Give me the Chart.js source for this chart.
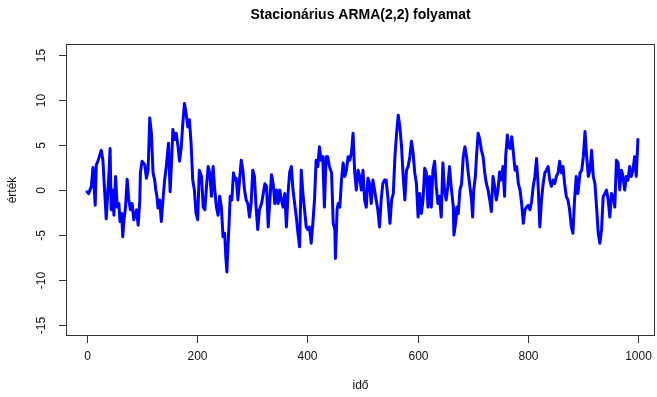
<!DOCTYPE html>
<html>
<head>
<meta charset="utf-8">
<script src="https://cdn.jsdelivr.net/npm/chart.js@4"></script>
<style>
  body { margin: 0; background: #fff; }
</style>
</head>
<body>
<canvas id="armaChart" width="657" height="397"></canvas>
<script>
// idő (time index) and érték (value)
const ido = [
  0,3,8,11,15,17,20,26,29,35,40,42,44,47,49,52,55,58,60,63,65,67,70,73,76,79,82,85,90,93,96,97,100,105,108,111,114,
  117,120,123,125,127,129,132,135,138,141,144,148,151,154,156,159,162,165,168,171,174,177,180,183,186,189,192,195,198,201,204,208,211,214,217,220,223,226,229,232,235,238,241,
  244,247,250,252,254,256,258,260,263,266,269,271,274,277,280,283,286,289,292,295,298,301,304,307,310,313,317,320,323,326,329,332,335,338,341,344,347,350,353,356,359,362,365,
  368,371,374,377,380,383,386,389,392,395,398,401,404,407,410,413,416,419,422,425,428,431,434,437,440,444,447,450,451,454,456,459,462,465,468,471,474,477,480,483,486,489,492,
  495,498,501,504,507,510,513,516,519,522,525,528,531,534,537,540,543,546,550,553,556,559,562,565,568,571,574,577,580,583,586,589,592,595,598,601,604,607,610,613,616,619,622,
  625,628,631,634,637,640,643,646,649,652,655,658,661,665,666,669,672,674,677,680,683,686,689,692,695,698,700,702,705,707,710,713,716,719,722,725,728,731,734,737,740,743,746,
  749,752,755,758,760,763,765,768,771,774,777,780,783,786,789,792,795,798,801,804,807,810,813,816,819,822,825,828,831,834,837,840,843,846,849,852,855,858,861,864,867,870,873,876,879,
  882,885,888,891,895,898,901,904,907,910,913,916,919,922,925,928,931,934,937,940,943,946,949,952,955,958,961,964,967,970,973,976,979,982,985,988,991,994,997,1000
];
const ertek = [
  -0.2,-0.4,0.4,2.5,-1.7,2.8,3.2,4.4,3.3,-3.2,1.9,4.6,-2.2,0,-2.8,1.5,-1.9,-1.5,-3.5,-2.6,-5.2,-3.5,-1.9,1.2,-1.1,-2.2,-1.5,-3.3,-2.2,-3.9,-1.1,1.9,3.2,2.8,1.3,2.2,8.0,
  6.3,1.9,1.1,0,-0.7,-2.0,-1.1,-3.5,-1.1,1.1,2.6,5.2,-0.2,3.7,6.7,5.6,6.3,5.0,3.2,4.6,7.4,9.6,8.5,7.0,7.8,5.2,1.1,0,-2.6,-3.3,2.2,1.5,-1.9,-2.2,0.4,2.6,1.9,-0.7,2.6,0,-1.9,-2.8,-0.7,
  -1.9,-5.2,-4.8,-7.4,-9.1,-6.3,-3.7,-0.7,-1.1,1.9,1.1,1.3,-1.1,1.1,3.3,2.2,0,-1.1,-1.5,-3.0,-1.5,2.2,1.5,-1.9,-4.4,-2.2,-1.5,-0.4,0.7,0.4,-4.1,-1.1,1.7,0.7,-1.5,0,-1.5,0,-1.1,-1.9,-0.4,-4.1,-0.4,
  2.0,2.6,0,-1.5,-3.0,-4.8,-6.3,2.2,-0.4,-2.2,-4.1,-4.4,-4.1,-5.9,-3.7,-1.1,3.3,2.6,4.8,3.3,3.7,-1.9,3.7,3.7,2.6,1.9,-3.7,-4.4,-7.6,-2.2,-1.5,-1.9,1.1,3.0,1.5,2.2,3.7,3.3,4.1,6.3,1.9,0,2.2,
  1.5,0,2.2,-1.1,-1.9,1.3,0.7,-1.5,1.1,0,-1.1,-2.2,-4.1,-1.1,0.7,1.1,1.1,-0.7,-3.7,-1.1,-0.4,3.7,6.3,8.3,7.0,4.8,1.5,-1.1,2.2,2.6,3.7,5.4,4.1,1.9,0.7,-3.0,-0.4,-2.6,-1.1,2.4,1.9,-1.9,1.5,
  -1.9,2.2,3.2,0.4,-1.5,-0.7,-3.0,3.0,0,-1.1,0.4,2.6,0.4,-1.9,-5.0,-3.7,-1.9,-2.6,0,0.7,3.7,4.8,3.7,1.9,0.4,-1.1,-3.0,0,1.5,3.7,6.3,5.6,4.4,3.7,1.9,0.7,0,-1.1,-2.4,1.5,0.4,-1.1,0,
  2.0,1.1,2.6,-0.7,3.7,6.1,4.8,4.6,5.9,4.1,2.2,2.6,0.7,0,-1.5,-3.7,-2.2,-1.9,-1.7,-2.2,-1.3,0.4,1.5,3.5,0.4,-4.1,-1.1,0.7,1.9,2.2,2.6,1.1,0.4,1.1,0.7,1.5,1.9,3.2,1.9,2.6,0.7,-0.7,-1.1,-2.2,-4.0,
  -4.8,-1.1,1.5,-0.4,1.9,2.2,3.7,6.5,3.7,1.5,2.2,4.4,1.5,0.7,-1.9,-4.8,-5.9,-4.4,-0.7,-0.4,0,-1.1,-3.0,-0.4,-0.7,-1.9,3.3,3.0,0,2.2,1.5,0,1.5,1.1,2.6,1.5,2.2,3.7,1.5,5.6
];
const xTicks = [0, 200, 400, 600, 800, 1000];
const yTicks = [-15, -10, -5, 0, 5, 10, 15];

if (ido.length !== ertek.length) throw new Error('length mismatch ' + ido.length + ' vs ' + ertek.length);

const FONT = '"Liberation Sans", Arial, Helvetica, sans-serif';

// R-like frame, ticks and labels, positioned through the chart scales
const rAxes = {
  id: 'rAxes',
  afterDraw(chart) {
    const { ctx, chartArea: a, scales: { x, y } } = chart;
    ctx.save();
    ctx.strokeStyle = '#333';
    ctx.lineWidth = 1;
    ctx.strokeRect(a.left + 0.5, a.top + 0.5, a.right - a.left - 1, a.bottom - a.top - 1);

    ctx.fillStyle = '#111';
    ctx.font = '12px ' + FONT;
    ctx.textAlign = 'center';
    ctx.textBaseline = 'middle';
    xTicks.forEach(v => {
      const px = Math.round(x.getPixelForValue(v)) + 0.5;
      ctx.beginPath();
      ctx.moveTo(px, a.bottom);
      ctx.lineTo(px, a.bottom + 7);
      ctx.stroke();
      ctx.fillText(String(v), px, a.bottom + 21);
    });
    yTicks.forEach(v => {
      const py = Math.round(y.getPixelForValue(v)) + 0.5;
      ctx.beginPath();
      ctx.moveTo(a.left, py);
      ctx.lineTo(a.left - 7, py);
      ctx.stroke();
      ctx.save();
      ctx.translate(a.left - 24, py);
      ctx.rotate(-Math.PI / 2);
      ctx.fillText(String(v), 0, 0);
      ctx.restore();
    });

    // axis titles
    const cx = (a.left + a.right) / 2;
    ctx.fillText('idő', cx, a.bottom + 50);
    ctx.save();
    ctx.translate(a.left - 53, (a.top + a.bottom) / 2);
    ctx.rotate(-Math.PI / 2);
    ctx.fillText('érték', 0, 0);
    ctx.restore();

    // main title
    ctx.font = 'bold 14px ' + FONT;
    ctx.fillStyle = '#000';
    ctx.fillText('Stacionárius ARMA(2,2) folyamat', cx, 15);
    ctx.restore();
  }
};

new Chart(document.getElementById('armaChart'), {
  type: 'line',
  data: {
    datasets: [{
      label: 'ARMA(2,2)',
      data: ido.map((t, i) => ({ x: t, y: ertek[i] })),
      borderColor: '#0000ff',
      borderWidth: 3,
      borderJoinStyle: 'round',
      borderCapStyle: 'round',
      pointRadius: 0,
      tension: 0,
      fill: false
    }]
  },
  options: {
    responsive: false,
    animation: false,
    devicePixelRatio: 1,
    layout: { padding: { left: 66, top: 44, right: 2, bottom: 61 } },
    plugins: {
      legend: { display: false },
      title: { display: false },
      tooltip: { enabled: false }
    },
    scales: {
      x: { type: 'linear', min: -38, max: 1031, display: false },
      y: { min: -16.2, max: 16.2, display: false }
    }
  },
  plugins: [rAxes]
});
</script>
</body>
</html>
